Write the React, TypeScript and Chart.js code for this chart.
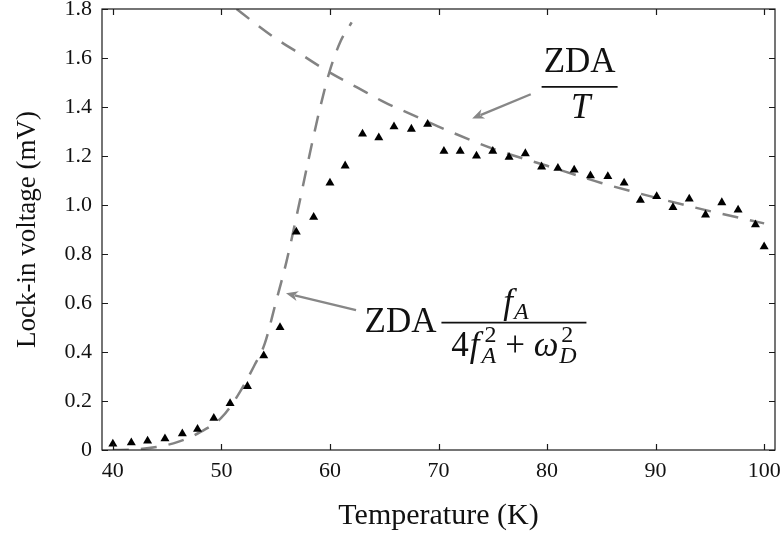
import React, { useEffect, useRef } from 'react';
import { Chart, registerables } from 'chart.js';

Chart.register(...registerables);

// ---------- data ----------
const temperature = [
  40.0, 41.7, 43.2, 44.8, 46.4, 47.8, 49.3, 50.8, 52.4, 53.9,
  55.4, 56.9, 58.5, 60.0, 61.4, 63.0, 64.5, 65.9, 67.5, 69.0,
  70.5, 72.0, 73.5, 75.0, 76.5, 78.0, 79.5, 81.0, 82.5, 84.0,
  85.6, 87.1, 88.6, 90.1, 91.6, 93.1, 94.6, 96.1, 97.6, 99.2,
  100.0,
];
const lockInVoltage = [
  0.025, 0.03, 0.037, 0.046, 0.067, 0.085, 0.13, 0.19, 0.26, 0.385,
  0.5, 0.89, 0.95, 1.09, 1.16, 1.29, 1.275, 1.32, 1.31, 1.33,
  1.22, 1.22, 1.2, 1.22, 1.195, 1.21, 1.156, 1.15, 1.143, 1.12,
  1.117, 1.09, 1.02, 1.035, 0.99, 1.025, 0.96, 1.01, 0.98, 0.92,
  0.83,
];

// dashed curve "ZDA / T"
const overTTemps = [51.4, 53, 55, 57.5, 60, 62.5, 65, 67.5, 70, 75, 80, 85, 90, 95, 100];
const overTValues = [1.8, 1.745, 1.68, 1.61, 1.54, 1.48, 1.42, 1.37, 1.32, 1.23, 1.16, 1.09, 1.03, 0.975, 0.925];

// dashed curve "ZDA fA/(4fA^2+wD^2)"
const fracTemps = [40, 42, 44, 46, 48, 50, 51.5, 53, 54, 55, 56, 57, 58, 59, 60, 61, 62];
const fracValues = [0, 0.002, 0.012, 0.033, 0.072, 0.132, 0.222, 0.342, 0.435, 0.6, 0.77, 0.97, 1.18, 1.38, 1.55, 1.67, 1.745];

const xTickValues = [40, 50, 60, 70, 80, 90, 100];
const xTickLabels = ['40', '50', '60', '70', '80', '90', '100'];
const yTickValues = [0, 0.2, 0.4, 0.6, 0.8, 1.0, 1.2, 1.4, 1.6, 1.8];
const yTickLabels = ['0', '0.2', '0.4', '0.6', '0.8', '1.0', '1.2', '1.4', '1.6', '1.8'];

const xTitle = 'Temperature (K)';
const yTitle = 'Lock-in voltage (mV)';

// annotation anchors (data coordinates)
const arrowOverT = { from: [78.5, 1.452], to: [73.1, 1.353] };
const arrowFrac = { from: [62.4, 0.571], to: [55.95, 0.64] };
const labelOverTAnchor = [83.0, 1.482];
const labelFracAnchor = [70.27, 0.52];

const SERIF = "'Liberation Serif', 'Times New Roman', serif";
const DASH = '#838383';
const ARROW = '#878787';

type Item = { t: string; f: string; dy?: number; dx?: number; stack?: boolean };

function layoutItems(ctx: CanvasRenderingContext2D, items: Item[]) {
  let x = 0;
  let prevStart = 0;
  let prevW = 0;
  const placed: (Item & { x: number })[] = [];
  for (const it of items) {
    ctx.font = it.f;
    const w = ctx.measureText(it.t).width + (it.dx || 0);
    if (it.stack) {
      placed.push({ ...it, x: prevStart + (it.dx || 0) });
      const nw = Math.max(prevW, w);
      x = prevStart + nw;
      prevW = nw;
    } else {
      placed.push({ ...it, x: x + (it.dx || 0) });
      prevStart = x;
      prevW = w;
      x += w;
    }
  }
  return { placed, width: x };
}

function drawItems(ctx: CanvasRenderingContext2D, items: Item[], x: number, baseline: number, align: 'left' | 'center' | 'right') {
  const { placed, width } = layoutItems(ctx, items);
  let x0 = x;
  if (align === 'center') x0 = x - width / 2;
  if (align === 'right') x0 = x - width;
  ctx.textAlign = 'left';
  ctx.textBaseline = 'alphabetic';
  for (const p of placed) {
    ctx.font = p.f;
    ctx.fillText(p.t, x0 + p.x, baseline + (p.dy || 0));
  }
}

function drawArrow(ctx: CanvasRenderingContext2D, x1: number, y1: number, x2: number, y2: number) {
  const ang = Math.atan2(y2 - y1, x2 - x1);
  const headLen = 12;
  const headW = 5;
  ctx.save();
  ctx.strokeStyle = ARROW;
  ctx.fillStyle = ARROW;
  ctx.lineWidth = 2.4;
  ctx.beginPath();
  ctx.moveTo(x1, y1);
  ctx.lineTo(x2 - Math.cos(ang) * (headLen - 3), y2 - Math.sin(ang) * (headLen - 3));
  ctx.stroke();
  ctx.beginPath();
  ctx.translate(x2, y2);
  ctx.rotate(ang);
  ctx.moveTo(0, 0);
  ctx.lineTo(-headLen, -headW);
  ctx.lineTo(-headLen + 3.5, 0);
  ctx.lineTo(-headLen, headW);
  ctx.closePath();
  ctx.fill();
  ctx.restore();
}

const framePlugin = {
  id: 'frameTicks',
  afterDatasetsDraw(chart: any) {
    const { ctx, chartArea: a, scales } = chart;
    const xs = scales.x;
    const ys = scales.y;
    ctx.save();
    ctx.strokeStyle = '#1a1a1a';
    ctx.lineWidth = 1.2;
    ctx.strokeRect(a.left, a.top, a.right - a.left, a.bottom - a.top);
    const tl = 6;
    ctx.beginPath();
    for (const v of xTickValues) {
      const px = Math.round(xs.getPixelForValue(v)) + 0.5;
      ctx.moveTo(px, a.bottom);
      ctx.lineTo(px, a.bottom - tl);
      ctx.moveTo(px, a.top);
      ctx.lineTo(px, a.top + tl);
    }
    for (const v of yTickValues) {
      const py = Math.round(ys.getPixelForValue(v)) + 0.5;
      ctx.moveTo(a.left, py);
      ctx.lineTo(a.left + tl, py);
      ctx.moveTo(a.right, py);
      ctx.lineTo(a.right - tl, py);
    }
    ctx.stroke();
    ctx.restore();
  },
};

const annotationPlugin = {
  id: 'mathAnnotations',
  afterDraw(chart: any) {
    const { ctx, scales } = chart;
    const xs = scales.x;
    const ys = scales.y;
    const P = (d: number[]) => [xs.getPixelForValue(d[0]), ys.getPixelForValue(d[1])];

    // arrows
    const a1f = P(arrowOverT.from), a1t = P(arrowOverT.to);
    drawArrow(ctx, a1f[0], a1f[1], a1t[0], a1t[1]);
    const a2f = P(arrowFrac.from), a2t = P(arrowFrac.to);
    drawArrow(ctx, a2f[0], a2f[1], a2t[0], a2t[1]);

    ctx.save();
    ctx.fillStyle = '#111';
    ctx.strokeStyle = '#111';
    const big = `35px ${SERIF}`;
    const bigI = `italic 35px ${SERIF}`;
    const small = `24px ${SERIF}`;
    const smallI = `italic 24px ${SERIF}`;

    // ZDA / T
    const [cx, by] = P(labelOverTAnchor);
    drawItems(ctx, [{ t: 'ZDA', f: big }], cx, by - 15, 'center');
    ctx.lineWidth = 1.6;
    ctx.beginPath();
    ctx.moveTo(cx - 38, by);
    ctx.lineTo(cx + 38, by);
    ctx.stroke();
    drawItems(ctx, [{ t: 'T', f: bigI }], cx + 1, by + 31, 'center');

    // ZDA fA / (4 fA^2 + wD^2)
    const [bx, bby] = P(labelFracAnchor);
    drawItems(ctx, [{ t: 'ZDA', f: big }], bx - 5, bby + 9, 'right');
    const barW = 145;
    ctx.lineWidth = 1.6;
    ctx.beginPath();
    ctx.moveTo(bx, bby);
    ctx.lineTo(bx + barW, bby);
    ctx.stroke();
    drawItems(
      ctx,
      [
        { t: 'f', f: bigI },
        { t: 'A', f: smallI, dy: 6, dx: 1 },
      ],
      bx + barW / 2 + 2,
      bby - 10,
      'center'
    );
    drawItems(
      ctx,
      [
        { t: '4', f: big },
        { t: 'f', f: bigI, dx: 1 },
        { t: 'A', f: smallI, dy: 7, dx: 2 },
        { t: '2', f: small, dy: -14, dx: 5, stack: true },
        { t: ' + ', f: big },
        { t: 'ω', f: bigI },
        { t: 'D', f: smallI, dy: 7, dx: 1 },
        { t: '2', f: small, dy: -14, dx: 3, stack: true },
      ],
      bx + barW / 2,
      bby + 33,
      'center'
    );
    ctx.restore();
  },
};

export default function App() {
  const ref = useRef<HTMLCanvasElement | null>(null);

  useEffect(() => {
    document.body.style.margin = '0';
    const canvas = ref.current;
    if (!canvas) return;

    const chart = new Chart(canvas, {
      type: 'scatter',
      data: {
        datasets: [
          {
            label: 'Lock-in voltage',
            data: temperature.map((t, i) => ({ x: t, y: lockInVoltage[i] })),
            pointStyle: 'triangle',
            pointRadius: 5.2,
            pointHoverRadius: 5.2,
            backgroundColor: '#000',
            borderColor: '#000',
            borderWidth: 0,
            showLine: false,
            order: 0,
          },
          {
            label: 'ZDA/T',
            data: overTTemps.map((t, i) => ({ x: t, y: overTValues[i] })),
            showLine: true,
            pointRadius: 0,
            borderColor: DASH,
            borderWidth: 2.5,
            borderDash: [16, 12],
            cubicInterpolationMode: 'monotone',
            fill: false,
            order: 1,
          } as any,
          {
            label: 'ZDA fA/(4fA^2+wD^2)',
            data: fracTemps.map((t, i) => ({ x: t, y: fracValues[i] })),
            showLine: true,
            pointRadius: 0,
            borderColor: DASH,
            borderWidth: 2.5,
            borderDash: [16, 12],
            cubicInterpolationMode: 'monotone',
            fill: false,
            order: 2,
          } as any,
        ],
      },
      options: {
        animation: false,
        responsive: false,
        devicePixelRatio: 1,
        layout: { padding: { top: 9, right: 9, left: 0, bottom: 0 } },
        plugins: {
          legend: { display: false },
          tooltip: { enabled: false },
        },
        scales: {
          x: {
            type: 'linear',
            min: 39,
            max: 101,
            grid: { display: false, drawTicks: false },
            border: { display: false },
            afterBuildTicks: (s: any) => {
              s.ticks = xTickValues.map((v) => ({ value: v }));
            },
            afterFit: (s: any) => {
              s.height = 87;
              s.paddingLeft = 0;
              s.paddingRight = 0;
            },
            ticks: {
              padding: 8,
              color: '#111',
              font: { family: SERIF, size: 22 },
              maxRotation: 0,
              autoSkip: false,
              callback: (_v: any, i: number) => xTickLabels[i],
            },
            title: {
              display: true,
              text: xTitle,
              color: '#111',
              font: { family: SERIF, size: 30 },
              padding: { top: 0, bottom: 3 },
            },
          },
          y: {
            type: 'linear',
            min: 0,
            max: 1.8,
            grid: { display: false, drawTicks: false },
            border: { display: false },
            afterBuildTicks: (s: any) => {
              s.ticks = yTickValues.map((v) => ({ value: v }));
            },
            afterFit: (s: any) => {
              s.width = 102;
              s.paddingTop = 0;
              s.paddingBottom = 0;
            },
            ticks: {
              padding: 10,
              color: '#111',
              font: { family: SERIF, size: 22 },
              autoSkip: false,
              callback: (_v: any, i: number) => yTickLabels[i],
            },
            title: {
              display: true,
              text: yTitle,
              color: '#111',
              font: { family: SERIF, size: 27 },
              padding: { top: 12, bottom: 0 },
            },
          },
        },
      },
      plugins: [framePlugin, annotationPlugin],
    });

    return () => chart.destroy();
  }, []);

  return (
    <canvas
      ref={ref}
      width={784}
      height={537}
      style={{ display: 'block', width: '784px', height: '537px' }}
    />
  );
}
